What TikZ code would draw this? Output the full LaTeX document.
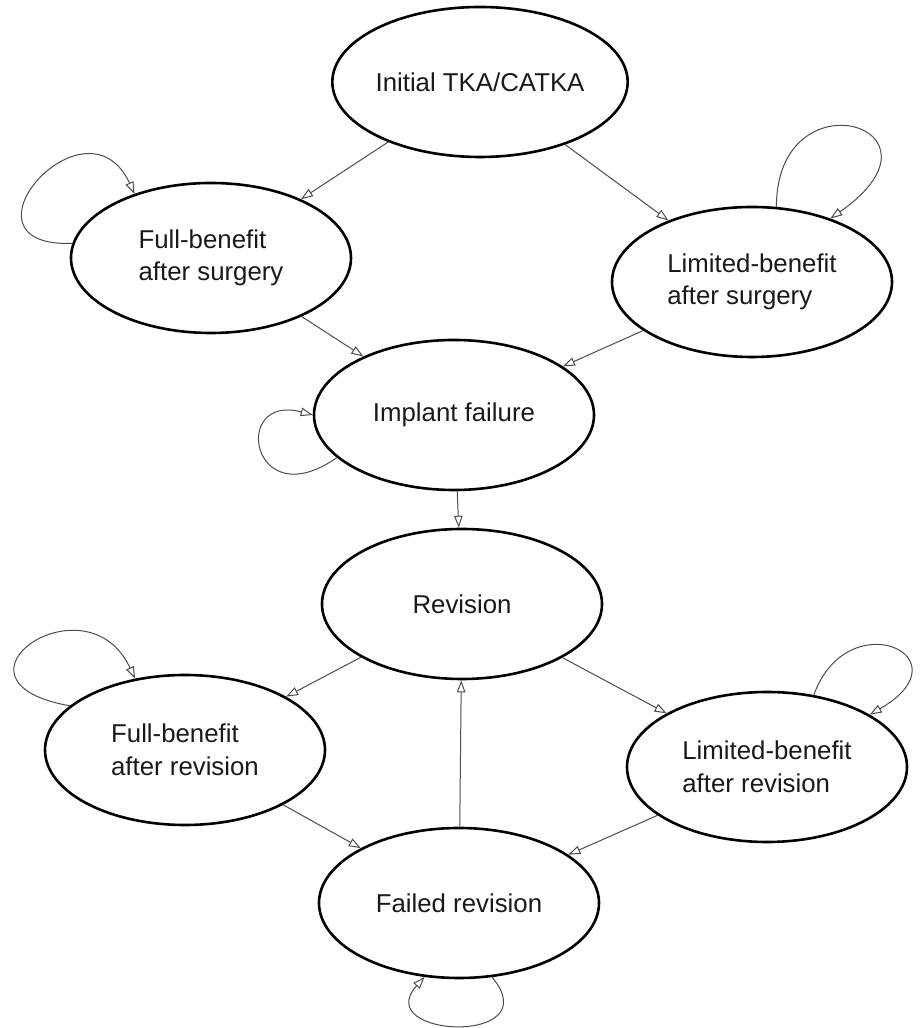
\documentclass[tikz,border=0pt]{standalone}
\usepackage{fontspec}
\setmainfont{Liberation Sans}
\usepackage{xcolor}
\usepackage{tikz}
\usetikzlibrary{arrows.meta,shapes.geometric}

\begin{document}
\begin{tikzpicture}[x=1pt, y=1pt,
  state/.style = {ellipse, draw, line width=2.6pt, minimum width=280pt, minimum height=150pt,
    inner sep=0pt, align=left, text=black!90, font=\fontsize{25.8}{32.5}\selectfont},
  trans/.style = {draw=black!70, line width=1pt, -{Triangle[open, length=12pt, width=8.5pt]}}]

\useasboundingbox (0,0) rectangle (919,1028);

\node (init) at (480,946) [state]{Initial TKA/CATKA};
\node (fullS) at (211,770) [state]{Full-benefit\\after surgery};
\node (limS) at (752,746) [state]{Limited-benefit\\after surgery};
\node (impl) at (454,613) [state]{Implant failure};
\node (rev) at (462,424) [state]{Revision};
\node (fullR) at (185,278) [state]{Full-benefit\\after revision};
\node (limR) at (767,261) [state]{Limited-benefit\\after revision};
\node (failR) at (459,125) [state]{Failed revision};

\draw[trans] (init) -- (fullS);
\draw[trans] (init) -- (limS);
\draw[trans] (fullS) -- (impl);
\draw[trans] (limS) -- (impl);
\draw[trans] (impl) -- (rev);
\draw[trans] (rev) -- (fullR);
\draw[trans] (rev) -- (limR);
\draw[trans] (fullR) -- (failR);
\draw[trans] (limR) -- (failR);
\draw[trans] (failR) -- (rev);

\draw[trans] (fullS.174) to[out=182, in=115, out distance=125pt, in distance=115pt] (fullS.140);
\draw[trans] (limS.72) to[out=90, in=35, out distance=135pt, in distance=160pt] (limS.39);
\draw[trans] (impl.200) to[out=215, in=165, out distance=105pt, in distance=85pt] (impl.180);
\draw[trans] (fullR.159) to[out=170, in=115, out distance=140pt, in distance=115pt] (fullR.125);
\draw[trans] (limR.57) to[out=70, in=30, out distance=100pt, in distance=115pt] (limR.27);
\draw[trans] (failR.294) to[out=310, in=228, out distance=90pt, in distance=82pt] (failR.245);

\end{tikzpicture}
\end{document}
